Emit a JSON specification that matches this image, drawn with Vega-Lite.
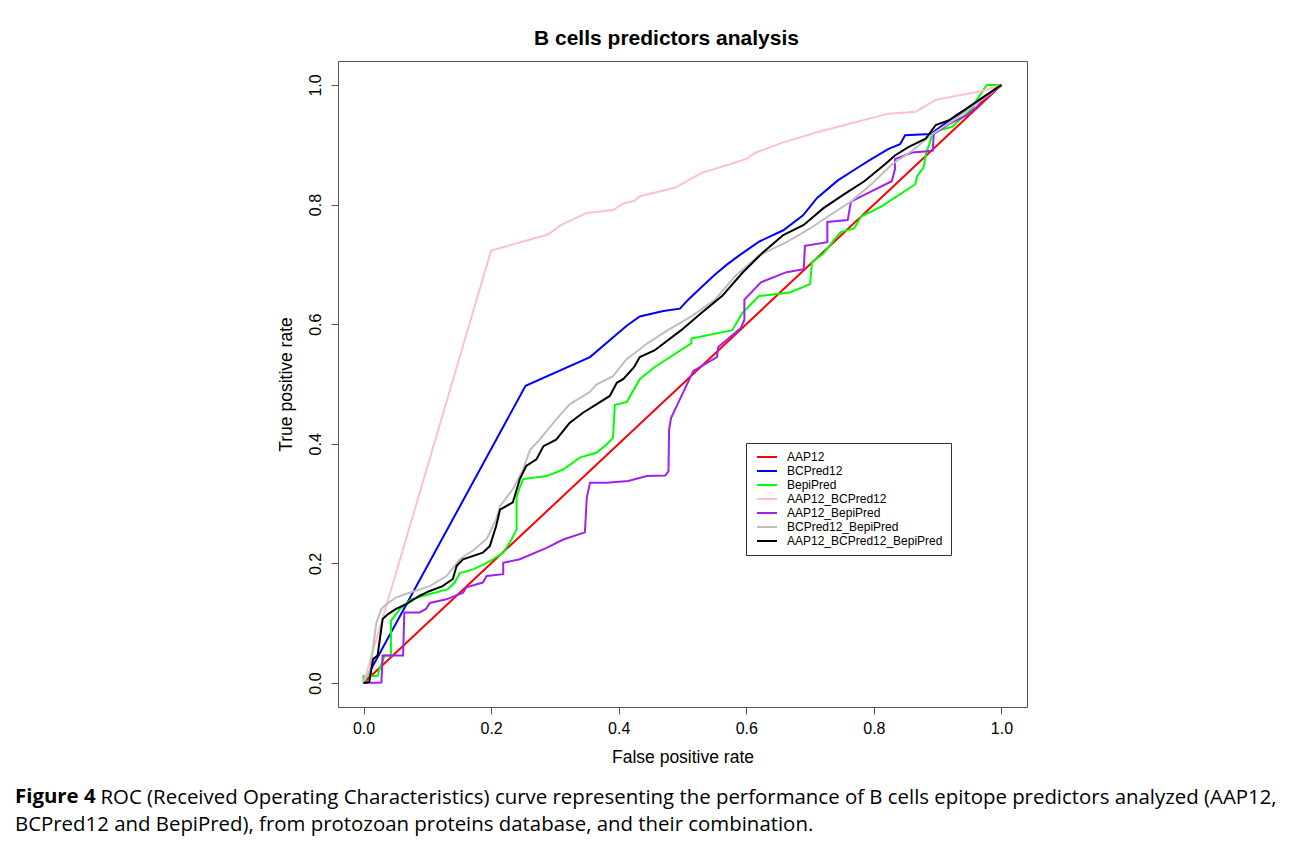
{
  "$schema": "https://vega.github.io/schema/vega-lite/v6.json",
  "width": 689,
  "height": 646,
  "autosize": {"type": "none"},
  "padding": {"left": 338, "top": 61, "right": 265, "bottom": 134},
  "background": "white",
  "config": {
    "font": "Liberation Sans",
    "view": {"stroke": "#555555", "strokeWidth": 1}
  },
  "title": {
    "text": "Figure 4",
    "subtitle": "BCPred12 and BepiPred), from protozoan proteins database, and their combination.",
    "orient": "bottom",
    "anchor": "start",
    "frame": "group",
    "dx": -323,
    "offset": -20.4,
    "font": "Open Sans",
    "fontSize": 20.4,
    "fontWeight": "bold",
    "color": "black",
    "subtitleFont": "Open Sans",
    "subtitleFontSize": 20.4,
    "subtitleFontWeight": "normal",
    "subtitleColor": "black",
    "subtitlePadding": 7.6
  },
  "data": {
    "values": [
      {"s": "AAP12", "x": 0, "y": 0},
      {"s": "AAP12", "x": 1, "y": 1},

      {"s": "BCPred12", "x": 0, "y": 0},
      {"s": "BCPred12", "x": 0.254, "y": 0.497},
      {"s": "BCPred12", "x": 0.355, "y": 0.545},
      {"s": "BCPred12", "x": 0.412, "y": 0.597},
      {"s": "BCPred12", "x": 0.433, "y": 0.613},
      {"s": "BCPred12", "x": 0.47, "y": 0.622},
      {"s": "BCPred12", "x": 0.496, "y": 0.626},
      {"s": "BCPred12", "x": 0.509, "y": 0.641},
      {"s": "BCPred12", "x": 0.53, "y": 0.662},
      {"s": "BCPred12", "x": 0.551, "y": 0.683},
      {"s": "BCPred12", "x": 0.57, "y": 0.7},
      {"s": "BCPred12", "x": 0.589, "y": 0.715},
      {"s": "BCPred12", "x": 0.62, "y": 0.738},
      {"s": "BCPred12", "x": 0.658, "y": 0.757},
      {"s": "BCPred12", "x": 0.689, "y": 0.782},
      {"s": "BCPred12", "x": 0.711, "y": 0.811},
      {"s": "BCPred12", "x": 0.743, "y": 0.84},
      {"s": "BCPred12", "x": 0.775, "y": 0.862},
      {"s": "BCPred12", "x": 0.796, "y": 0.876},
      {"s": "BCPred12", "x": 0.823, "y": 0.893},
      {"s": "BCPred12", "x": 0.841, "y": 0.901},
      {"s": "BCPred12", "x": 0.849, "y": 0.916},
      {"s": "BCPred12", "x": 0.889, "y": 0.918},
      {"s": "BCPred12", "x": 0.93, "y": 0.95},
      {"s": "BCPred12", "x": 0.96, "y": 0.97},
      {"s": "BCPred12", "x": 1, "y": 1},

      {"s": "BepiPred", "x": 0, "y": 0},
      {"s": "BepiPred", "x": 0, "y": 0.012},
      {"s": "BepiPred", "x": 0.022, "y": 0.012},
      {"s": "BepiPred", "x": 0.025, "y": 0.023},
      {"s": "BepiPred", "x": 0.033, "y": 0.046},
      {"s": "BepiPred", "x": 0.043, "y": 0.046},
      {"s": "BepiPred", "x": 0.043, "y": 0.104},
      {"s": "BepiPred", "x": 0.057, "y": 0.124},
      {"s": "BepiPred", "x": 0.075, "y": 0.14},
      {"s": "BepiPred", "x": 0.104, "y": 0.149},
      {"s": "BepiPred", "x": 0.132, "y": 0.157},
      {"s": "BepiPred", "x": 0.143, "y": 0.168},
      {"s": "BepiPred", "x": 0.151, "y": 0.184},
      {"s": "BepiPred", "x": 0.172, "y": 0.19},
      {"s": "BepiPred", "x": 0.193, "y": 0.201},
      {"s": "BepiPred", "x": 0.203, "y": 0.207},
      {"s": "BepiPred", "x": 0.219, "y": 0.218},
      {"s": "BepiPred", "x": 0.232, "y": 0.24},
      {"s": "BepiPred", "x": 0.24, "y": 0.257},
      {"s": "BepiPred", "x": 0.24, "y": 0.313},
      {"s": "BepiPred", "x": 0.25, "y": 0.341},
      {"s": "BepiPred", "x": 0.287, "y": 0.346},
      {"s": "BepiPred", "x": 0.313, "y": 0.357},
      {"s": "BepiPred", "x": 0.339, "y": 0.377},
      {"s": "BepiPred", "x": 0.365, "y": 0.385},
      {"s": "BepiPred", "x": 0.381, "y": 0.399},
      {"s": "BepiPred", "x": 0.391, "y": 0.41},
      {"s": "BepiPred", "x": 0.394, "y": 0.465},
      {"s": "BepiPred", "x": 0.413, "y": 0.47},
      {"s": "BepiPred", "x": 0.418, "y": 0.48},
      {"s": "BepiPred", "x": 0.433, "y": 0.508},
      {"s": "BepiPred", "x": 0.456, "y": 0.528},
      {"s": "BepiPred", "x": 0.514, "y": 0.568},
      {"s": "BepiPred", "x": 0.514, "y": 0.576},
      {"s": "BepiPred", "x": 0.578, "y": 0.59},
      {"s": "BepiPred", "x": 0.594, "y": 0.619},
      {"s": "BepiPred", "x": 0.62, "y": 0.647},
      {"s": "BepiPred", "x": 0.668, "y": 0.653},
      {"s": "BepiPred", "x": 0.7, "y": 0.667},
      {"s": "BepiPred", "x": 0.703, "y": 0.704},
      {"s": "BepiPred", "x": 0.721, "y": 0.718},
      {"s": "BepiPred", "x": 0.737, "y": 0.74},
      {"s": "BepiPred", "x": 0.748, "y": 0.754},
      {"s": "BepiPred", "x": 0.769, "y": 0.76},
      {"s": "BepiPred", "x": 0.78, "y": 0.78},
      {"s": "BepiPred", "x": 0.812, "y": 0.797},
      {"s": "BepiPred", "x": 0.865, "y": 0.834},
      {"s": "BepiPred", "x": 0.868, "y": 0.848},
      {"s": "BepiPred", "x": 0.878, "y": 0.862},
      {"s": "BepiPred", "x": 0.881, "y": 0.882},
      {"s": "BepiPred", "x": 0.892, "y": 0.918},
      {"s": "BepiPred", "x": 0.902, "y": 0.924},
      {"s": "BepiPred", "x": 0.923, "y": 0.93},
      {"s": "BepiPred", "x": 0.934, "y": 0.941},
      {"s": "BepiPred", "x": 0.955, "y": 0.961},
      {"s": "BepiPred", "x": 0.961, "y": 0.975},
      {"s": "BepiPred", "x": 0.977, "y": 1.0},
      {"s": "BepiPred", "x": 1, "y": 1},

      {"s": "AAP12_BCPred12", "x": 0, "y": 0},
      {"s": "AAP12_BCPred12", "x": 0.2, "y": 0.723},
      {"s": "AAP12_BCPred12", "x": 0.289, "y": 0.75},
      {"s": "AAP12_BCPred12", "x": 0.31, "y": 0.766},
      {"s": "AAP12_BCPred12", "x": 0.35, "y": 0.786},
      {"s": "AAP12_BCPred12", "x": 0.392, "y": 0.791},
      {"s": "AAP12_BCPred12", "x": 0.407, "y": 0.802},
      {"s": "AAP12_BCPred12", "x": 0.424, "y": 0.806},
      {"s": "AAP12_BCPred12", "x": 0.433, "y": 0.814},
      {"s": "AAP12_BCPred12", "x": 0.488, "y": 0.828},
      {"s": "AAP12_BCPred12", "x": 0.53, "y": 0.853},
      {"s": "AAP12_BCPred12", "x": 0.573, "y": 0.867},
      {"s": "AAP12_BCPred12", "x": 0.599, "y": 0.876},
      {"s": "AAP12_BCPred12", "x": 0.615, "y": 0.887},
      {"s": "AAP12_BCPred12", "x": 0.658, "y": 0.904},
      {"s": "AAP12_BCPred12", "x": 0.711, "y": 0.921},
      {"s": "AAP12_BCPred12", "x": 0.754, "y": 0.933},
      {"s": "AAP12_BCPred12", "x": 0.823, "y": 0.952},
      {"s": "AAP12_BCPred12", "x": 0.865, "y": 0.955},
      {"s": "AAP12_BCPred12", "x": 0.897, "y": 0.975},
      {"s": "AAP12_BCPred12", "x": 0.936, "y": 0.983},
      {"s": "AAP12_BCPred12", "x": 0.97, "y": 0.99},
      {"s": "AAP12_BCPred12", "x": 1, "y": 1},

      {"s": "AAP12_BepiPred", "x": 0, "y": 0},
      {"s": "AAP12_BepiPred", "x": 0.028, "y": 0.001},
      {"s": "AAP12_BepiPred", "x": 0.03, "y": 0.046},
      {"s": "AAP12_BepiPred", "x": 0.062, "y": 0.046},
      {"s": "AAP12_BepiPred", "x": 0.064, "y": 0.118},
      {"s": "AAP12_BepiPred", "x": 0.088, "y": 0.118},
      {"s": "AAP12_BepiPred", "x": 0.098, "y": 0.124},
      {"s": "AAP12_BepiPred", "x": 0.104, "y": 0.134},
      {"s": "AAP12_BepiPred", "x": 0.13, "y": 0.14},
      {"s": "AAP12_BepiPred", "x": 0.156, "y": 0.151},
      {"s": "AAP12_BepiPred", "x": 0.161, "y": 0.16},
      {"s": "AAP12_BepiPred", "x": 0.187, "y": 0.168},
      {"s": "AAP12_BepiPred", "x": 0.193, "y": 0.179},
      {"s": "AAP12_BepiPred", "x": 0.219, "y": 0.182},
      {"s": "AAP12_BepiPred", "x": 0.219, "y": 0.201},
      {"s": "AAP12_BepiPred", "x": 0.245, "y": 0.207},
      {"s": "AAP12_BepiPred", "x": 0.287, "y": 0.226},
      {"s": "AAP12_BepiPred", "x": 0.313, "y": 0.24},
      {"s": "AAP12_BepiPred", "x": 0.347, "y": 0.252},
      {"s": "AAP12_BepiPred", "x": 0.35, "y": 0.31},
      {"s": "AAP12_BepiPred", "x": 0.355, "y": 0.335},
      {"s": "AAP12_BepiPred", "x": 0.381, "y": 0.335},
      {"s": "AAP12_BepiPred", "x": 0.415, "y": 0.338},
      {"s": "AAP12_BepiPred", "x": 0.444, "y": 0.346},
      {"s": "AAP12_BepiPred", "x": 0.473, "y": 0.347},
      {"s": "AAP12_BepiPred", "x": 0.478, "y": 0.354},
      {"s": "AAP12_BepiPred", "x": 0.479, "y": 0.424},
      {"s": "AAP12_BepiPred", "x": 0.482, "y": 0.443},
      {"s": "AAP12_BepiPred", "x": 0.517, "y": 0.522},
      {"s": "AAP12_BepiPred", "x": 0.554, "y": 0.545},
      {"s": "AAP12_BepiPred", "x": 0.556, "y": 0.562},
      {"s": "AAP12_BepiPred", "x": 0.591, "y": 0.593},
      {"s": "AAP12_BepiPred", "x": 0.597, "y": 0.607},
      {"s": "AAP12_BepiPred", "x": 0.597, "y": 0.641},
      {"s": "AAP12_BepiPred", "x": 0.623, "y": 0.67},
      {"s": "AAP12_BepiPred", "x": 0.663, "y": 0.687},
      {"s": "AAP12_BepiPred", "x": 0.69, "y": 0.692},
      {"s": "AAP12_BepiPred", "x": 0.692, "y": 0.731},
      {"s": "AAP12_BepiPred", "x": 0.727, "y": 0.737},
      {"s": "AAP12_BepiPred", "x": 0.727, "y": 0.771},
      {"s": "AAP12_BepiPred", "x": 0.759, "y": 0.774},
      {"s": "AAP12_BepiPred", "x": 0.764, "y": 0.805},
      {"s": "AAP12_BepiPred", "x": 0.796, "y": 0.822},
      {"s": "AAP12_BepiPred", "x": 0.828, "y": 0.839},
      {"s": "AAP12_BepiPred", "x": 0.833, "y": 0.859},
      {"s": "AAP12_BepiPred", "x": 0.833, "y": 0.876},
      {"s": "AAP12_BepiPred", "x": 0.86, "y": 0.887},
      {"s": "AAP12_BepiPred", "x": 0.892, "y": 0.89},
      {"s": "AAP12_BepiPred", "x": 0.894, "y": 0.918},
      {"s": "AAP12_BepiPred", "x": 0.918, "y": 0.935},
      {"s": "AAP12_BepiPred", "x": 0.945, "y": 0.949},
      {"s": "AAP12_BepiPred", "x": 0.961, "y": 0.963},
      {"s": "AAP12_BepiPred", "x": 0.971, "y": 0.975},
      {"s": "AAP12_BepiPred", "x": 1, "y": 1},

      {"s": "BCPred12_BepiPred", "x": 0, "y": 0},
      {"s": "BCPred12_BepiPred", "x": 0.01, "y": 0.02},
      {"s": "BCPred12_BepiPred", "x": 0.02, "y": 0.1},
      {"s": "BCPred12_BepiPred", "x": 0.028, "y": 0.124},
      {"s": "BCPred12_BepiPred", "x": 0.036, "y": 0.132},
      {"s": "BCPred12_BepiPred", "x": 0.051, "y": 0.143},
      {"s": "BCPred12_BepiPred", "x": 0.072, "y": 0.151},
      {"s": "BCPred12_BepiPred", "x": 0.104, "y": 0.162},
      {"s": "BCPred12_BepiPred", "x": 0.13, "y": 0.179},
      {"s": "BCPred12_BepiPred", "x": 0.151, "y": 0.207},
      {"s": "BCPred12_BepiPred", "x": 0.172, "y": 0.222},
      {"s": "BCPred12_BepiPred", "x": 0.193, "y": 0.241},
      {"s": "BCPred12_BepiPred", "x": 0.208, "y": 0.274},
      {"s": "BCPred12_BepiPred", "x": 0.214, "y": 0.296},
      {"s": "BCPred12_BepiPred", "x": 0.234, "y": 0.324},
      {"s": "BCPred12_BepiPred", "x": 0.25, "y": 0.357},
      {"s": "BCPred12_BepiPred", "x": 0.261, "y": 0.39},
      {"s": "BCPred12_BepiPred", "x": 0.276, "y": 0.407},
      {"s": "BCPred12_BepiPred", "x": 0.302, "y": 0.441},
      {"s": "BCPred12_BepiPred", "x": 0.323, "y": 0.466},
      {"s": "BCPred12_BepiPred", "x": 0.355, "y": 0.487},
      {"s": "BCPred12_BepiPred", "x": 0.365, "y": 0.499},
      {"s": "BCPred12_BepiPred", "x": 0.391, "y": 0.513},
      {"s": "BCPred12_BepiPred", "x": 0.412, "y": 0.541},
      {"s": "BCPred12_BepiPred", "x": 0.433, "y": 0.558},
      {"s": "BCPred12_BepiPred", "x": 0.445, "y": 0.568},
      {"s": "BCPred12_BepiPred", "x": 0.477, "y": 0.59},
      {"s": "BCPred12_BepiPred", "x": 0.514, "y": 0.613},
      {"s": "BCPred12_BepiPred", "x": 0.551, "y": 0.641},
      {"s": "BCPred12_BepiPred", "x": 0.583, "y": 0.681},
      {"s": "BCPred12_BepiPred", "x": 0.62, "y": 0.715},
      {"s": "BCPred12_BepiPred", "x": 0.663, "y": 0.737},
      {"s": "BCPred12_BepiPred", "x": 0.7, "y": 0.76},
      {"s": "BCPred12_BepiPred", "x": 0.732, "y": 0.783},
      {"s": "BCPred12_BepiPred", "x": 0.764, "y": 0.805},
      {"s": "BCPred12_BepiPred", "x": 0.796, "y": 0.834},
      {"s": "BCPred12_BepiPred", "x": 0.828, "y": 0.867},
      {"s": "BCPred12_BepiPred", "x": 0.86, "y": 0.89},
      {"s": "BCPred12_BepiPred", "x": 0.892, "y": 0.918},
      {"s": "BCPred12_BepiPred", "x": 0.929, "y": 0.944},
      {"s": "BCPred12_BepiPred", "x": 0.961, "y": 0.969},
      {"s": "BCPred12_BepiPred", "x": 1, "y": 1},

      {"s": "AAP12_BCPred12_BepiPred", "x": 0, "y": 0},
      {"s": "AAP12_BCPred12_BepiPred", "x": 0.009, "y": 0.002},
      {"s": "AAP12_BCPred12_BepiPred", "x": 0.015, "y": 0.04},
      {"s": "AAP12_BCPred12_BepiPred", "x": 0.022, "y": 0.046},
      {"s": "AAP12_BCPred12_BepiPred", "x": 0.03, "y": 0.107},
      {"s": "AAP12_BCPred12_BepiPred", "x": 0.038, "y": 0.115},
      {"s": "AAP12_BCPred12_BepiPred", "x": 0.051, "y": 0.124},
      {"s": "AAP12_BCPred12_BepiPred", "x": 0.067, "y": 0.132},
      {"s": "AAP12_BCPred12_BepiPred", "x": 0.088, "y": 0.146},
      {"s": "AAP12_BCPred12_BepiPred", "x": 0.104, "y": 0.154},
      {"s": "AAP12_BCPred12_BepiPred", "x": 0.124, "y": 0.162},
      {"s": "AAP12_BCPred12_BepiPred", "x": 0.14, "y": 0.174},
      {"s": "AAP12_BCPred12_BepiPred", "x": 0.146, "y": 0.196},
      {"s": "AAP12_BCPred12_BepiPred", "x": 0.156, "y": 0.207},
      {"s": "AAP12_BCPred12_BepiPred", "x": 0.187, "y": 0.218},
      {"s": "AAP12_BCPred12_BepiPred", "x": 0.198, "y": 0.229},
      {"s": "AAP12_BCPred12_BepiPred", "x": 0.208, "y": 0.263},
      {"s": "AAP12_BCPred12_BepiPred", "x": 0.214, "y": 0.29},
      {"s": "AAP12_BCPred12_BepiPred", "x": 0.234, "y": 0.302},
      {"s": "AAP12_BCPred12_BepiPred", "x": 0.245, "y": 0.341},
      {"s": "AAP12_BCPred12_BepiPred", "x": 0.255, "y": 0.363},
      {"s": "AAP12_BCPred12_BepiPred", "x": 0.271, "y": 0.374},
      {"s": "AAP12_BCPred12_BepiPred", "x": 0.282, "y": 0.396},
      {"s": "AAP12_BCPred12_BepiPred", "x": 0.302, "y": 0.407},
      {"s": "AAP12_BCPred12_BepiPred", "x": 0.323, "y": 0.435},
      {"s": "AAP12_BCPred12_BepiPred", "x": 0.344, "y": 0.452},
      {"s": "AAP12_BCPred12_BepiPred", "x": 0.365, "y": 0.466},
      {"s": "AAP12_BCPred12_BepiPred", "x": 0.386, "y": 0.48},
      {"s": "AAP12_BCPred12_BepiPred", "x": 0.397, "y": 0.502},
      {"s": "AAP12_BCPred12_BepiPred", "x": 0.407, "y": 0.508},
      {"s": "AAP12_BCPred12_BepiPred", "x": 0.424, "y": 0.528},
      {"s": "AAP12_BCPred12_BepiPred", "x": 0.433, "y": 0.545},
      {"s": "AAP12_BCPred12_BepiPred", "x": 0.456, "y": 0.556},
      {"s": "AAP12_BCPred12_BepiPred", "x": 0.498, "y": 0.59},
      {"s": "AAP12_BCPred12_BepiPred", "x": 0.53, "y": 0.619},
      {"s": "AAP12_BCPred12_BepiPred", "x": 0.562, "y": 0.647},
      {"s": "AAP12_BCPred12_BepiPred", "x": 0.594, "y": 0.686},
      {"s": "AAP12_BCPred12_BepiPred", "x": 0.626, "y": 0.72},
      {"s": "AAP12_BCPred12_BepiPred", "x": 0.658, "y": 0.749},
      {"s": "AAP12_BCPred12_BepiPred", "x": 0.69, "y": 0.766},
      {"s": "AAP12_BCPred12_BepiPred", "x": 0.721, "y": 0.794},
      {"s": "AAP12_BCPred12_BepiPred", "x": 0.753, "y": 0.817},
      {"s": "AAP12_BCPred12_BepiPred", "x": 0.785, "y": 0.839},
      {"s": "AAP12_BCPred12_BepiPred", "x": 0.817, "y": 0.867},
      {"s": "AAP12_BCPred12_BepiPred", "x": 0.833, "y": 0.882},
      {"s": "AAP12_BCPred12_BepiPred", "x": 0.854, "y": 0.896},
      {"s": "AAP12_BCPred12_BepiPred", "x": 0.881, "y": 0.91},
      {"s": "AAP12_BCPred12_BepiPred", "x": 0.897, "y": 0.933},
      {"s": "AAP12_BCPred12_BepiPred", "x": 0.918, "y": 0.941},
      {"s": "AAP12_BCPred12_BepiPred", "x": 0.934, "y": 0.952},
      {"s": "AAP12_BCPred12_BepiPred", "x": 0.961, "y": 0.972},
      {"s": "AAP12_BCPred12_BepiPred", "x": 1, "y": 1}
    ]
  },
  "encoding": {
    "color": {
      "field": "s",
      "type": "nominal",
      "scale": {
        "domain": ["AAP12", "BCPred12", "BepiPred", "AAP12_BCPred12", "AAP12_BepiPred", "BCPred12_BepiPred", "AAP12_BCPred12_BepiPred"],
        "range": ["#FF0000", "#0000FF", "#00FF00", "#FFC0CB", "#A020F0", "#BEBEBE", "#000000"]
      },
      "legend": {
        "title": null,
        "orient": "none",
        "legendX": 408,
        "legendY": 382,
        "padding": 8,
        "strokeColor": "#333333",
        "fillColor": "white",
        "labelFont": "Liberation Sans",
        "labelFontSize": 12,
        "labelColor": "black",
        "labelLimit": 300,
        "labelOffset": 14,
        "symbolOffset": 7,
        "symbolType": "M-2,0H2",
        "symbolSize": 100,
        "symbolStrokeWidth": 2,
        "rowPadding": 2
      }
    }
  },
  "layer": [
    {
      "transform": [{"filter": "datum.s === 'AAP12'"}],
      "mark": {"type": "line", "strokeWidth": 2},
      "encoding": {
        "x": {
          "field": "x",
          "type": "quantitative",
          "scale": {"domain": [-0.04, 1.04], "nice": false, "zero": false},
          "axis": {
            "orient": "top",
            "title": "B cells predictors analysis",
            "labels": false,
            "ticks": false,
            "domain": false,
            "grid": false,
            "titleFont": "Liberation Sans",
            "titleFontSize": 21,
            "titleFontWeight": "bold",
            "titleColor": "black",
            "titlePadding": 13,
            "titleX": 328
          }
        },
        "y": {
          "field": "y",
          "type": "quantitative",
          "scale": {"domain": [-0.04, 1.04], "nice": false, "zero": false},
          "axis": {
            "orient": "right",
            "title": "ROC (Received Operating Characteristics) curve representing the performance of B cells epitope predictors analyzed (AAP12,",
            "labels": false,
            "ticks": false,
            "domain": false,
            "grid": false,
            "titleFont": "Open Sans",
            "titleFontSize": 20.4,
            "titleFontWeight": "normal",
            "titleColor": "black",
            "titleAngle": 0,
            "titleAlign": "left",
            "titleBaseline": "top",
            "titleLimit": 2000,
            "titleX": -927,
            "titleY": 726
          }
        }
      }
    },
    {
      "transform": [{"filter": "datum.s !== 'AAP12'"}],
      "mark": {"type": "line", "strokeWidth": 2},
      "encoding": {
        "x": {
          "field": "x",
          "type": "quantitative",
          "scale": {"domain": [-0.04, 1.04], "nice": false, "zero": false},
          "axis": {
            "orient": "bottom",
            "title": "False positive rate",
            "values": [0, 0.2, 0.4, 0.6, 0.8, 1],
            "format": ".1f",
            "grid": false,
            "domain": false,
            "tickSize": 7,
            "tickColor": "#555555",
            "labelFont": "Liberation Sans",
            "labelFontSize": 16,
            "labelColor": "black",
            "labelPadding": 6,
            "labelFlush": false,
            "titleFont": "Liberation Sans",
            "titleFontSize": 17.5,
            "titleFontWeight": "normal",
            "titleColor": "black",
            "titlePadding": 12
          }
        },
        "y": {
          "field": "y",
          "type": "quantitative",
          "scale": {"domain": [-0.04, 1.04], "nice": false, "zero": false},
          "axis": {
            "orient": "left",
            "title": "True positive rate",
            "values": [0, 0.2, 0.4, 0.6, 0.8, 1],
            "format": ".1f",
            "grid": false,
            "domain": false,
            "tickSize": 7,
            "tickColor": "#555555",
            "labelAngle": -90,
            "labelAlign": "center",
            "labelBaseline": "alphabetic",
            "labelFont": "Liberation Sans",
            "labelFontSize": 16,
            "labelColor": "black",
            "labelPadding": 11,
            "labelFlush": false,
            "titleFont": "Liberation Sans",
            "titleFontSize": 17.5,
            "titleFontWeight": "normal",
            "titleColor": "black",
            "titlePadding": 12
          }
        }
      }
    }
  ],
  "resolve": {"axis": {"x": "independent", "y": "independent"}}
}
